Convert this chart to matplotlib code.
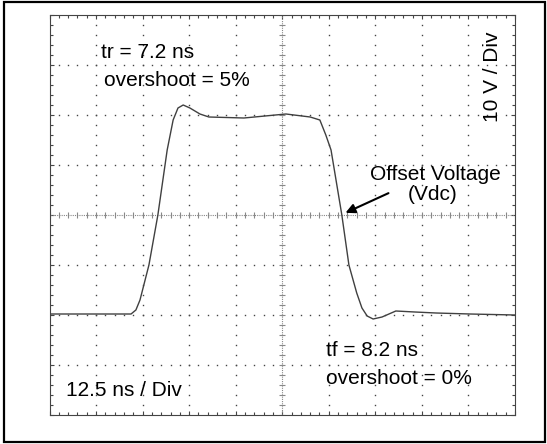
import numpy as np
import matplotlib
matplotlib.use("Agg")
import matplotlib.pyplot as plt
from matplotlib.patches import Rectangle

plt.rcParams['font.family'] = ['Liberation Sans', 'DejaVu Sans']

# scope settings
ns_per_div = 12.5
v_per_div = 10
n_xdiv = 10
n_ydiv = 8

# waveform (time in ns, voltage in V)
time_ns = [0, 18.9, 21.9, 23.2, 24.3, 26.7, 29.1, 31.6, 33.2, 34.5, 35.9, 37.7,
           40.4, 42.8, 52.2, 63.5, 70.0, 72.6, 74.2, 75.6, 78.5, 80.4, 82.5,
           83.9, 85.3, 86.9, 89.3, 93.0, 98.1, 103.8, 112.9, 125]
volts = [-19.8, -19.8, -19.8, -19.0, -17.0, -10.0, 0.0, 13.0, 19.0, 21.4, 22.0,
         21.4, 20.2, 19.6, 19.4, 20.2, 19.6, 19.0, 16.0, 13.0, 0.0, -10.0, -15.6,
         -18.6, -20.2, -20.8, -20.4, -19.2, -19.4, -19.6, -19.8, -20.0]

t_max = ns_per_div * n_xdiv
v_max = v_per_div * n_ydiv / 2
t_mid = t_max / 2

fig = plt.figure(figsize=(5.47, 4.44), dpi=100)
W, H = 547, 444
left, right, top, bottom = 49.5, 515, 15, 415
ax = fig.add_axes([left / W, (H - bottom) / H, (right - left) / W, (bottom - top) / H])
ax.set_xlim(0, t_max)
ax.set_ylim(-v_max, v_max)

# outer frame
fig.add_artist(Rectangle((3.5 / W, 2 / H), 541.5 / W, 439.5 / H, transform=fig.transFigure,
                         fill=False, edgecolor='black', linewidth=1.6))

# dotted graticule
x_minor = np.arange(0, t_max + 0.01, ns_per_div / 5)
y_minor = np.arange(-v_max, v_max + 0.01, v_per_div / 5)
for xm in np.arange(ns_per_div, t_max, ns_per_div):
    if abs(xm - t_mid) > 0.01:
        ax.plot(np.full_like(y_minor, xm), y_minor, ls='none', marker='s',
                ms=1.0, mew=0, color='#444444')
for ym in np.arange(-v_max + v_per_div, v_max, v_per_div):
    if abs(ym) > 0.01:
        ax.plot(x_minor, np.full_like(x_minor, ym), ls='none', marker='s',
                ms=1.0, mew=0, color='#444444')

# center axes with small ticks
ax.axhline(0, color='#888888', lw=0.8, ls=(0, (1, 1)))
ax.axvline(t_mid, color='#888888', lw=0.8, ls=(0, (1, 1)))
ax.plot(x_minor, np.zeros_like(x_minor), ls='none', marker='|', ms=5, mew=0.8, color='#888888')
ax.plot(np.full_like(y_minor, t_mid), y_minor, ls='none', marker='_', ms=5, mew=0.8, color='#888888')

# border ticks
ax.set_xticks(np.arange(0, t_max + 0.01, ns_per_div))
ax.set_yticks(np.arange(-v_max, v_max + 0.01, v_per_div))
ax.set_xticks(x_minor, minor=True)
ax.set_yticks(y_minor, minor=True)
ax.tick_params(which='both', direction='in', top=True, right=True,
               labelbottom=False, labelleft=False, color='#444444')
ax.tick_params(which='major', length=3, width=0.8)
ax.tick_params(which='minor', length=2, width=0.8)
for s in ax.spines.values():
    s.set_linewidth(0.8)
    s.set_color('#444444')

# trace
ax.plot(time_ns, volts, color='#404040', lw=1.0)

fs = 15
ax.text(0.111, 0.905, "tr = 7.2 ns", transform=ax.transAxes, fontsize=fs, va='center')
ax.text(0.117, 0.8375, "overshoot = 5%", transform=ax.transAxes, fontsize=fs, va='center')
ax.text(0.951, 0.845, "10 V / Div", transform=ax.transAxes, fontsize=fs,
        rotation=90, ha='center', va='center')
ax.text(0.83, 0.6, "Offset Voltage", transform=ax.transAxes, fontsize=fs, ha='center', va='center')
ax.text(0.824, 0.55, "(Vdc)", transform=ax.transAxes, fontsize=fs, ha='center', va='center')
ax.annotate("", xy=(78.8, 0.2), xytext=(91.7, 4.6),
            arrowprops=dict(arrowstyle='-|>', color='black', lw=1.5, mutation_scale=14))
ax.text(0.594, 0.1625, "tf = 8.2 ns", transform=ax.transAxes, fontsize=fs, va='center')
ax.text(0.594, 0.0925, "overshoot = 0%", transform=ax.transAxes, fontsize=fs, va='center')
ax.text(0.0354, 0.0625, "12.5 ns / Div", transform=ax.transAxes, fontsize=fs, va='center')

fig.savefig("out.png", dpi=100)
